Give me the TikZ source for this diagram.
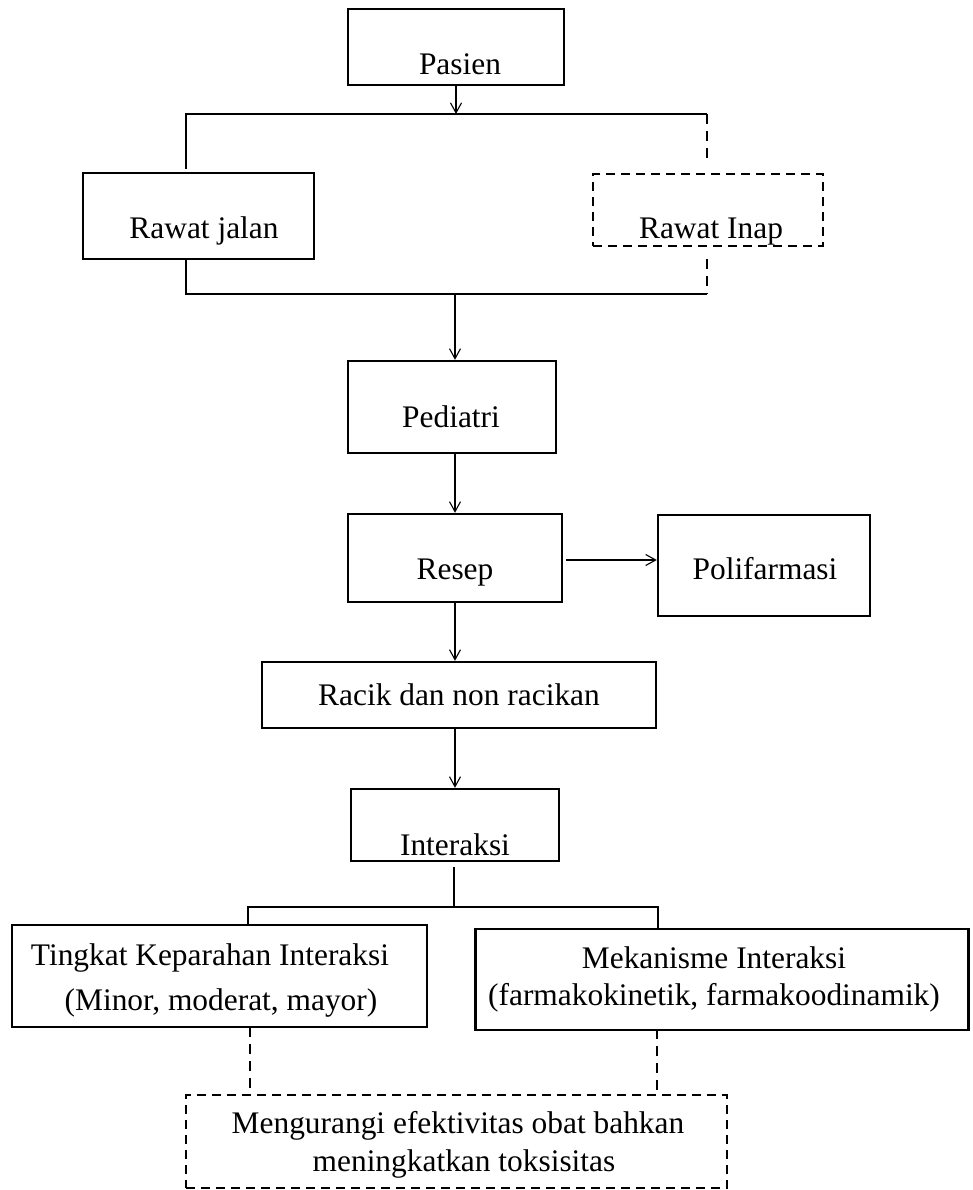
\documentclass[tikz,border=0pt]{standalone}
\usepackage{fontspec}
\setmainfont{Liberation Serif}
\usetikzlibrary{arrows.meta}
\begin{document}
\begin{tikzpicture}[x=1pt,y=-1pt,
  box/.style={draw, line width=2.4pt, inner sep=0pt, rectangle},
  dbox/.style={box, dash pattern=on 9pt off 6pt},
  lbl/.style={anchor=base, inner sep=0pt, font=\fontsize{31.4pt}{38pt}\selectfont},
  arr/.style={line width=1.1pt, -{Straight Barb[length=10pt,width=11pt,line width=1.1pt]}},
  conn/.style={line width=1.8pt},
  dconn/.style={line width=1.3pt, dash pattern=on 10pt off 7pt},
  tconn/.style={line width=2.8pt}]
\useasboundingbox (0,0) rectangle (972,1190);
% boxes
\node[box, minimum width=216pt, minimum height=76pt] (pasien) at (456,47) {};
\node[box, minimum width=231pt, minimum height=86pt] (jalan) at (198.5,216) {};
\node[dbox, minimum width=230pt, minimum height=72pt] (inap) at (708,210) {};
\node[box, minimum width=208pt, minimum height=92pt] (pediatri) at (452,407) {};
\node[box, minimum width=214pt, minimum height=88pt] (resep) at (455,558) {};
\node[box, minimum width=212pt, minimum height=101pt] (poli) at (764,565.5) {};
\node[box, minimum width=394pt, minimum height=66pt] (racik) at (459,695) {};
\node[box, minimum width=208pt, minimum height=72pt] (interaksi) at (455,825) {};
\node[box, minimum width=415pt, minimum height=102pt] (tingkat) at (219.5,976) {};
\node[box, minimum width=493pt, minimum height=101pt] (mekanisme) at (722,979.5) {};
\node[dbox, minimum width=541pt, minimum height=93pt] (efek) at (456.5,1141.5) {};
% labels
\node[lbl] (tpasien) at (460,75) {Pasien};
\node[lbl] (tjalan) at (204,239) {Rawat jalan};
\node[lbl] (tinap) at (711,239) {Rawat Inap};
\node[lbl] (tped) at (451,427) {Pediatri};
\node[lbl] (tresep) at (455,579) {Resep};
\node[lbl] (tpoli) at (765,579) {Polifarmasi};
\node[lbl] (tracik) at (459,705) {Racik dan non racikan};
\node[lbl] (tint) at (455,855) {Interaksi};
\node[lbl] (ttk1) at (210,965) {Tingkat Keparahan Interaksi};
\node[lbl] (ttk2) at (221,1010) {(Minor, moderat, mayor)};
\node[lbl] (tmk1) at (714,968) {Mekanisme Interaksi};
\node[lbl] (tmk2) at (714,1005) {(farmakokinetik, farmakoodinamik)};
\node[lbl] (tef1) at (458,1133) {Mengurangi efektivitas obat bahkan};
\node[lbl] (tef2) at (464,1171) {meningkatkan toksisitas};
% coordinates
\coordinate (j1) at (456,114);
\coordinate (j1l) at (186,114);
\coordinate (j1r) at (707,114);
\coordinate (j1ld) at (186,169);
\coordinate (j1rd) at (707,165);
\coordinate (j2lu) at (186,259);
\coordinate (j2ru) at (707,259);
\coordinate (j2l) at (186,294);
\coordinate (j2r) at (707,294);
\coordinate (j2) at (455,294);
\coordinate (k0) at (454,867);
\coordinate (k1) at (454,907);
\coordinate (k1l) at (248,907);
\coordinate (k1r) at (658,907);
\coordinate (k1ld) at (248,925);
\coordinate (k1rd) at (658,929);
\coordinate (d1u) at (250,1027);
\coordinate (d1d) at (250,1090);
\coordinate (d2u) at (657,1029);
\coordinate (d2d) at (657,1090);
% connectors
\draw[arr] (pasien.south -| j1) -- (j1);
\draw[conn] (j1ld) -- (j1l) -- (j1r);
\draw[dconn] (j1r) -- (j1rd);
\draw[conn] (j2lu) -- (j2l) -- (j2r);
\draw[dconn] (j2ru) -- (j2r);
\draw[arr] (j2) -- (j2 |- pediatri.north);
\draw[arr] (pediatri.south -| j2) -- (j2 |- resep.north);
\draw[arr] ([xshift=3pt]resep.east |- 0,560) -- (poli.west |- 0,560);
\draw[arr] (resep.south -| j2) -- (j2 |- racik.north);
\draw[arr] (racik.south -| j2) -- (j2 |- interaksi.north);
\draw[tconn] (k0) -- (k1);
\draw[tconn] (k1ld) -- (k1l) -- (k1r) -- (k1rd);
\draw[dconn] (d1u) -- (d1d);
\draw[dconn] (d2u) -- (d2d);
\end{tikzpicture}
\end{document}
